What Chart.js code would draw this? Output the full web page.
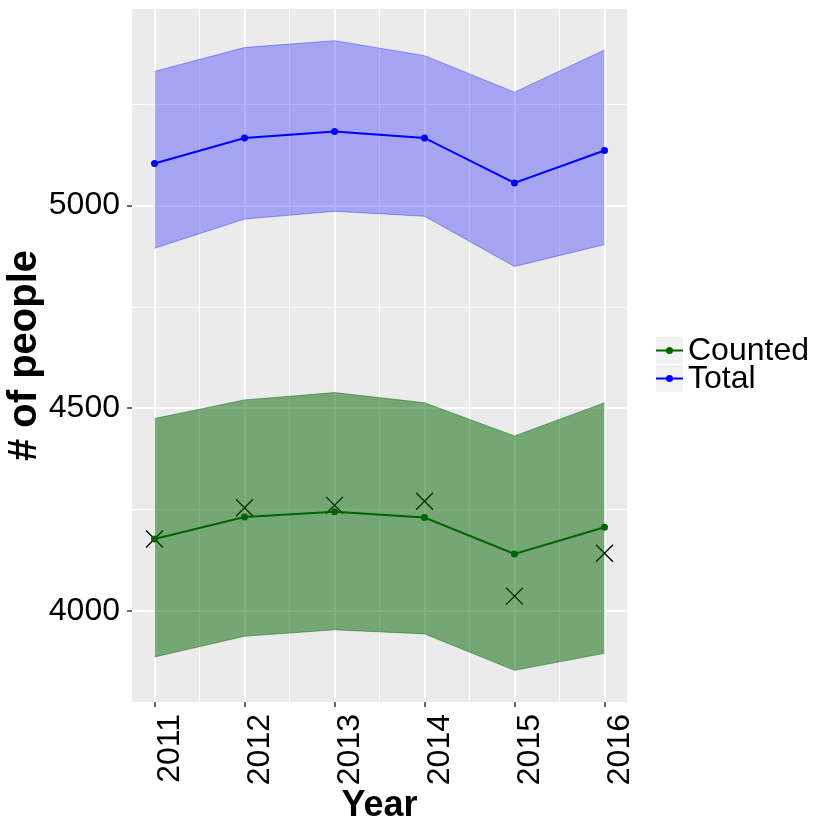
<!DOCTYPE html>
<html>
<head>
<meta charset="utf-8">
<script src="https://cdn.jsdelivr.net/npm/chart.js@4.4.0/dist/chart.umd.min.js"></script>
<style>
html, body { margin: 0; padding: 0; background: #ffffff; }
#wrap { width: 830px; height: 830px; }
</style>
</head>
<body>
<div id="wrap"><canvas id="chart"></canvas></div>
<script>
// values
var years = [2011, 2012, 2013, 2014, 2015, 2016];
var totalMid = [5104, 5167, 5183, 5167, 5056, 5136];
var totalHigh = [5331, 5390, 5407, 5370, 5280, 5384];
var totalLow = [4895, 4967, 4986, 4974, 4850, 4904];
var countedMid = [4178, 4232, 4245, 4231, 4141, 4207];
var countedHigh = [4475, 4521, 4539, 4514, 4432, 4514];
var countedLow = [3887, 3938, 3954, 3944, 3854, 3896];
var observed = [4178, 4255, 4261, 4271, 4037, 4143];

var yMajor = [4000, 4500, 5000];
var yMinor = [4250, 4750, 5250];
var xMinor = [2011.5, 2012.5, 2013.5, 2014.5, 2015.5];
var legendLabels = ['Counted', 'Total'];
var legendColors = ['#006400', '#0000ff'];

function pts(vals) {
    return years.map(function(y, i) { return {x: y, y: vals[i]}; });
}

var tickFont = '32px "Liberation Sans", Arial, sans-serif';

var panelBg = {
    id: 'panelBg',
    beforeDraw: function(chart) {
        var a = chart.chartArea, ctx = chart.ctx;
        ctx.save();
        ctx.fillStyle = '#ebebeb';
        ctx.fillRect(a.left, a.top, a.right - a.left, a.bottom - a.top);
        ctx.restore();
    }
};

var extras = {
    id: 'extras',
    afterDraw: function(chart) {
        var ctx = chart.ctx, xs = chart.scales.x, a = chart.chartArea;
        ctx.save();
        // rotated x tick labels, reading upwards
        ctx.fillStyle = '#000000';
        ctx.font = tickFont;
        ctx.textAlign = 'right';
        ctx.textBaseline = 'alphabetic';
        years.forEach(function(y) {
            var px = xs.getPixelForValue(y);
            ctx.save();
            ctx.translate(px + 24, a.bottom + 12);
            ctx.rotate(-Math.PI / 2);
            ctx.fillText(String(y), 0, 0);
            ctx.restore();
        });
        // legend
        var keyX = 656, keyW = 27, keyH = 27, top0 = 337;
        legendLabels.forEach(function(lab, i) {
            var ty = top0 + i * 28;
            ctx.fillStyle = '#f2f2f2';
            ctx.fillRect(keyX, ty, keyW, keyH);
            ctx.strokeStyle = legendColors[i];
            ctx.lineWidth = 2;
            ctx.beginPath();
            ctx.moveTo(keyX, ty + keyH / 2);
            ctx.lineTo(keyX + keyW, ty + keyH / 2);
            ctx.stroke();
            ctx.fillStyle = legendColors[i];
            ctx.beginPath();
            ctx.arc(keyX + keyW / 2, ty + keyH / 2, 3.5, 0, Math.PI * 2);
            ctx.fill();
            ctx.fillStyle = '#000000';
            ctx.font = tickFont;
            ctx.textAlign = 'left';
            ctx.textBaseline = 'middle';
            ctx.fillText(lab, keyX + keyW + 5, ty + keyH / 2 + 1);
        });
        ctx.restore();
    }
};

var isMajorX = function(v) { return years.indexOf(v) >= 0; };
var isMajorY = function(v) { return yMajor.indexOf(v) >= 0; };

var ctx = document.getElementById('chart').getContext('2d');
window.theChart = new Chart(ctx, {
    type: 'line',
    data: {
        datasets: [
            { label: 'totalHigh', data: pts(totalHigh), fill: '+1', backgroundColor: 'rgba(0,0,255,0.3)',
              borderColor: 'rgba(0,0,255,0.35)', borderWidth: 1, pointRadius: 0, tension: 0 },
            { label: 'totalLow', data: pts(totalLow), fill: false,
              borderColor: 'rgba(0,0,255,0.35)', borderWidth: 1, pointRadius: 0, tension: 0 },
            { label: 'countedHigh', data: pts(countedHigh), fill: '+1', backgroundColor: 'rgba(0,100,0,0.5)',
              borderColor: 'rgba(0,100,0,0.45)', borderWidth: 1, pointRadius: 0, tension: 0 },
            { label: 'countedLow', data: pts(countedLow), fill: false,
              borderColor: 'rgba(0,100,0,0.45)', borderWidth: 1, pointRadius: 0, tension: 0 },
            { label: 'Total', data: pts(totalMid), fill: false, borderColor: '#0000ff', backgroundColor: '#0000ff',
              borderWidth: 2, pointRadius: 3.5, pointBorderWidth: 0, tension: 0 },
            { label: 'Counted', data: pts(countedMid), fill: false, borderColor: '#006400', backgroundColor: '#006400',
              borderWidth: 2, pointRadius: 3.5, pointBorderWidth: 0, tension: 0 },
            { label: 'Observed', data: pts(observed), showLine: false, pointStyle: 'crossRot',
              pointRadius: 12, borderColor: '#000000', pointBorderWidth: 1.3, pointBorderColor: '#000000' }
        ]
    },
    options: {
        responsive: true,
        maintainAspectRatio: false,
        animation: false,
        events: [],
        layout: { autoPadding: false, padding: { top: 9, right: 203, left: 0, bottom: 0 } },
        plugins: { legend: { display: false }, tooltip: { enabled: false } },
        scales: {
            x: {
                type: 'linear',
                min: 2010.75,
                max: 2016.25,
                afterBuildTicks: function(s) {
                    s.ticks = years.concat(xMinor).map(function(v) { return {value: v}; });
                },
                afterFit: function(s) { s.height = 128; s.paddingLeft = 0; s.paddingRight = 0; },
                border: { display: false },
                grid: {
                    color: '#ffffff',
                    lineWidth: function(c) { return isMajorX(c.tick.value) ? 2 : 1; },
                    drawTicks: true,
                    tickLength: 5,
                    tickWidth: 1.5,
                    tickColor: function(c) { return isMajorX(c.tick.value) ? '#333333' : 'rgba(0,0,0,0)'; }
                },
                ticks: { display: false },
                title: {
                    display: true, text: 'Year', color: '#000000',
                    font: { family: '"Liberation Sans", Arial, sans-serif', size: 36, weight: 'bold' },
                    padding: { top: 0, bottom: 2 }
                }
            },
            y: {
                type: 'linear',
                min: 3776,
                max: 5485,
                afterBuildTicks: function(s) {
                    s.ticks = yMajor.concat(yMinor).map(function(v) { return {value: v}; });
                },
                afterFit: function(s) { s.width = 132; s.paddingTop = 0; s.paddingBottom = 0; },
                border: { display: false },
                grid: {
                    color: '#ffffff',
                    lineWidth: function(c) { return isMajorY(c.tick.value) ? 2 : 1; },
                    drawTicks: true,
                    tickLength: 5,
                    tickWidth: 1.5,
                    tickColor: function(c) { return isMajorY(c.tick.value) ? '#333333' : 'rgba(0,0,0,0)'; }
                },
                ticks: {
                    color: '#000000',
                    padding: 7,
                    font: { family: '"Liberation Sans", Arial, sans-serif', size: 32 },
                    callback: function(v) { return isMajorY(v) ? String(v) : ''; }
                },
                title: {
                    display: true, text: '# of people', color: '#000000',
                    font: { family: '"Liberation Sans", Arial, sans-serif', size: 40, weight: 'bold' },
                    padding: { top: 1, bottom: 0 }
                }
            }
        }
    },
    plugins: [panelBg, extras]
});
</script>
</body>
</html>
